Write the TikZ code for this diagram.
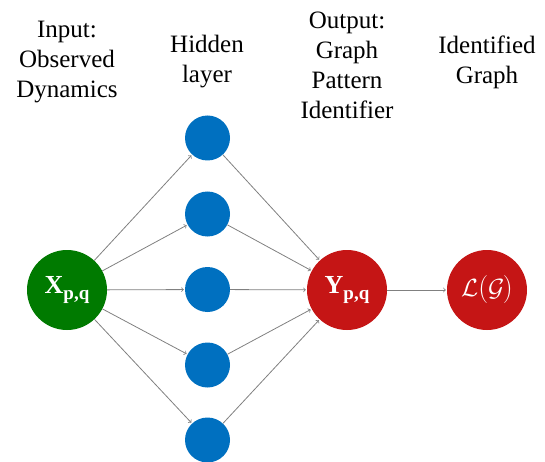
\documentclass[tikz,border=0pt]{standalone}
\usepackage{fontspec}
\newfontfamily\serifA{Liberation Serif}[Ligatures=NoCommon]
\definecolor{ingreen}{RGB}{0,122,0}
\definecolor{hidblue}{RGB}{0,112,192}
\definecolor{outred}{RGB}{197,21,21}
\definecolor{edgegray}{RGB}{128,128,128}
\newcommand{\subpq}{\raisebox{-6pt}{\fontsize{19}{19}\selectfont p,q}}
\newcommand{\calchar}[1]{{\usefont{OMS}{cmsy}{m}{n}#1}}
\tikzset{
  neuron/.style={circle, inner sep=0pt, draw=none, text=white},
  bigneuron/.style={neuron, minimum size=80pt, font=\serifA\fontsize{26}{30}\selectfont\bfseries},
  hidneuron/.style={neuron, fill=hidblue, minimum size=45pt},
  lbl/.style={align=center, inner sep=0pt, font=\serifA\fontsize{25}{30}\selectfont},
  conn/.style={draw=edgegray, line width=0.8pt, -to, shorten >=1pt}
}
\begin{document}
\begin{tikzpicture}[x=1pt,y=-1pt]
\useasboundingbox (0,0) rectangle (545,462);
% labels
\node[lbl] (t1) at (67,62) {Input:\\Observed\\Dynamics};
\node[lbl] (t2) at (207,62) {Hidden\\layer};
\node[lbl] (t3) at (347,65) {Output:\\Graph\\Pattern\\Identif\kern0pt ier};
\node[lbl] (t4) at (487,62) {Identif\kern0pt ied\\Graph};
% nodes
\node[bigneuron, fill=ingreen] (x) at (67,290) {X\subpq};
\node[hidneuron] (h1) at (207.5,138) {};
\node[hidneuron] (h2) at (207.5,214) {};
\node[hidneuron] (h3) at (207.5,289.5) {};
\node[hidneuron] (h4) at (207.5,365) {};
\node[hidneuron] (h5) at (207.5,440) {};
\node[bigneuron, fill=outred] (y) at (347,290) {Y\subpq};
\node[neuron, fill=outred, minimum size=80pt, font=\fontsize{28}{30}\selectfont] (l) at (487,290) {\calchar{L}(\calchar{G})};
% connectors
\foreach \h in {h1,h2,h3,h4,h5}{
  \draw[conn] (x) -- (\h);
  \draw[conn] (\h) -- (y);
}
\draw[conn] (y) -- (l);
\end{tikzpicture}
\end{document}
